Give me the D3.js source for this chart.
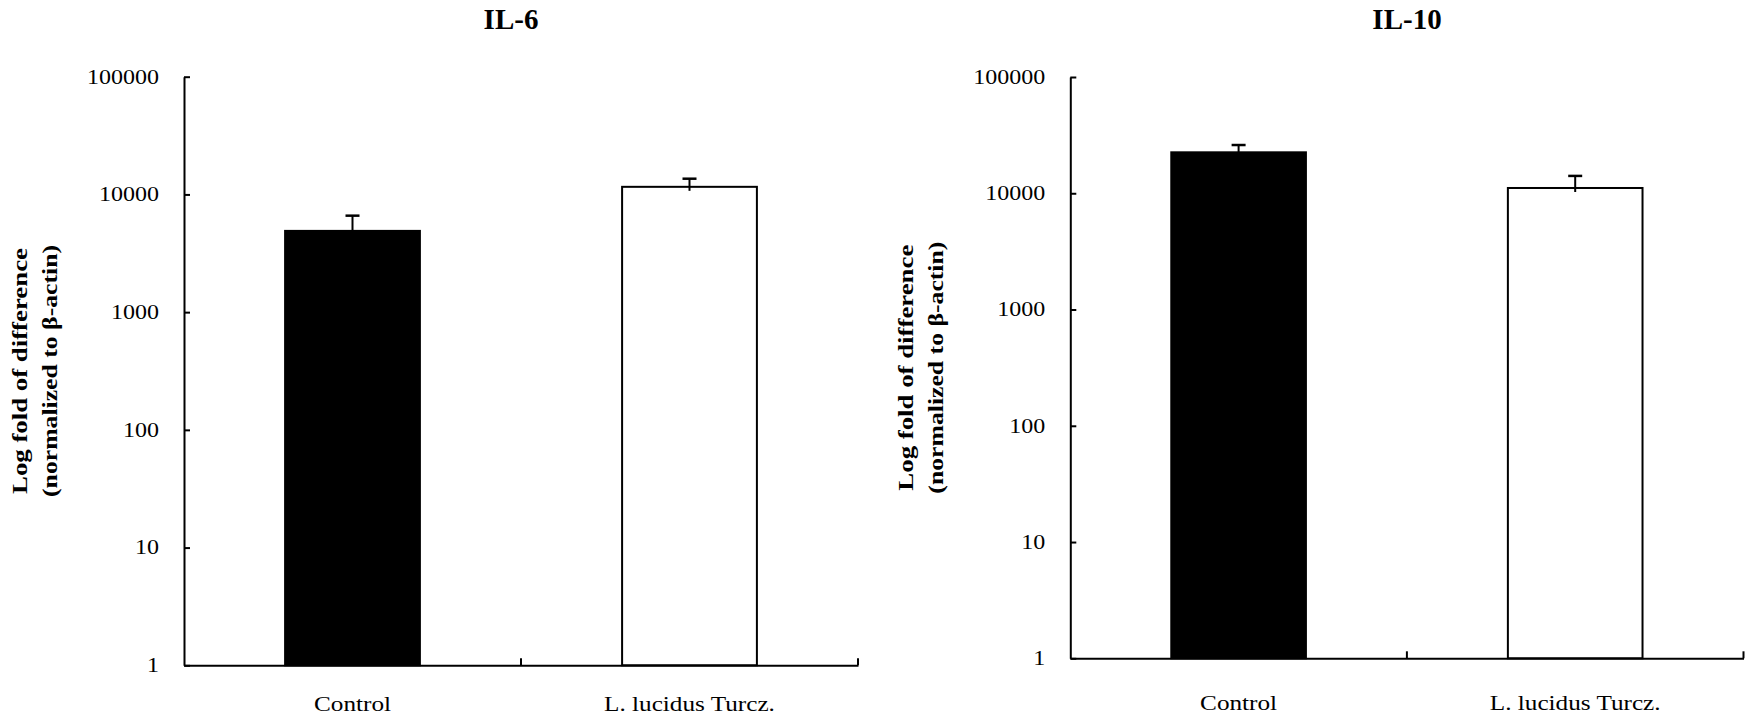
<!DOCTYPE html>
<html>
<head>
<meta charset="utf-8">
<script src="https://cdn.jsdelivr.net/npm/d3@7"></script>
<style>
  html, body { margin: 0; padding: 0; background: #fff; }
  svg { display: block; }
  text { font-family: "Liberation Serif", "Times New Roman", serif; fill: #000; }
</style>
</head>
<body>
<svg id="chart" width="1750" height="717"></svg>
<script>
// ---- data ----
const categories = ["Control", "L. lucidus Turcz."];
const panelTitles = ["IL-6", "IL-10"];
const il6Values = [4900, 11600];
const il6Upper = [6600, 13600];
const il10Values = [22500, 11100];
const il10Upper = [26000, 14100];
const yTicks = [1, 10, 100, 1000, 10000, 100000];
const yLabelLines = ["Log fold of difference", "(normalized to \u03b2-actin)"];
const barFills = ["#000000", "#ffffff"];

// ---- layout ----
const layouts = [
  { left: 184, right: 858, top: 76.7, bottom: 665.3, titleX: 511, xLabelPad: 31 },
  { left: 1070.3, right: 1743.5, top: 77, bottom: 658.3, titleX: 1407, xLabelPad: 37 }
];
const seriesValues = [il6Values, il10Values];
const seriesUpper = [il6Upper, il10Upper];

const svg = d3.select("#chart");
const stretch = 1.2;

function stretchText(sel) {
  sel.each(function () {
    const len = this.getComputedTextLength();
    d3.select(this).attr("textLength", len * stretch).attr("lengthAdjust", "spacingAndGlyphs");
  });
}

layouts.forEach((L, i) => {
  const g = svg.append("g");
  const x = d3.scaleBand().domain(categories).range([L.left, L.right]).padding(0);
  const y = d3.scaleLog().domain([1, 100000]).range([L.bottom, L.top]);
  const barW = x.bandwidth() * 0.4;

  // title
  g.append("text")
    .attr("x", L.titleX).attr("y", 29)
    .attr("text-anchor", "middle")
    .attr("font-size", 29).attr("font-weight", "bold")
    .text(panelTitles[i]);

  // y label
  const cy = (L.top + L.bottom) / 2;
  [[L.left - 164, yLabelLines[0], 246], [L.left - 134, yLabelLines[1], 252]].forEach(([lx, t, tl]) => {
    g.append("text")
      .attr("transform", `translate(${lx},${cy}) rotate(-90)`)
      .attr("text-anchor", "middle")
      .attr("dy", "0.35em")
      .attr("font-size", 20).attr("font-weight", "bold")
      .attr("textLength", tl).attr("lengthAdjust", "spacingAndGlyphs")
      .text(t);
  });

  // bars
  const vals = seriesValues[i];
  const ups = seriesUpper[i];
  const cx = c => x(c) + x.bandwidth() / 2;
  // error bars (drawn before bars so lower part hides behind fill partly)
  categories.forEach((c, j) => {
    g.append("line")
      .attr("x1", cx(c)).attr("x2", cx(c))
      .attr("y1", y(vals[j]) + 4).attr("y2", y(ups[j]))
      .attr("stroke", "#000").attr("stroke-width", 2);
    g.append("line")
      .attr("x1", cx(c) - 7).attr("x2", cx(c) + 7)
      .attr("y1", y(ups[j])).attr("y2", y(ups[j]))
      .attr("stroke", "#000").attr("stroke-width", 2.5);
  });
  g.selectAll("rect.bar")
    .data(categories)
    .enter().append("rect")
    .attr("class", "bar")
    .attr("x", c => cx(c) - barW / 2)
    .attr("width", barW)
    .attr("y", (c, j) => y(vals[j]))
    .attr("height", (c, j) => L.bottom - y(vals[j]))
    .attr("fill", (c, j) => barFills[j])
    .attr("fill-opacity", (c, j) => j === 1 ? 0 : 1)
    .attr("stroke", "#000").attr("stroke-width", 2);

  // y axis
  const yAxis = d3.axisLeft(y)
    .tickValues(yTicks)
    .tickFormat(d3.format("d"))
    .tickSize(-6).tickSizeOuter(0).tickPadding(25);
  const ya = g.append("g").attr("transform", `translate(${L.left},0)`).call(yAxis);
  ya.select(".domain").attr("stroke", "#000").attr("stroke-width", 2);
  ya.selectAll(".tick line").attr("stroke", "#000").attr("stroke-width", 2);
  ya.selectAll(".tick text").attr("font-size", 20).attr("font-family", "Liberation Serif, serif").attr("fill", "#000").call(stretchText);

  // x axis
  const xAxis = d3.axisBottom(x).tickSize(0).tickSizeOuter(0).tickPadding(L.xLabelPad);
  const xa = g.append("g").attr("transform", `translate(0,${L.bottom})`).call(xAxis);
  xa.select(".domain").attr("stroke", "#000").attr("stroke-width", 2);
  xa.selectAll(".tick text").attr("font-size", 21).attr("font-family", "Liberation Serif, serif").attr("fill", "#000").call(stretchText);
  // boundary ticks pointing up
  categories.forEach(c => {
    const bx = x(c) + x.bandwidth();
    g.append("line")
      .attr("x1", bx).attr("x2", bx)
      .attr("y1", L.bottom).attr("y2", L.bottom - 7)
      .attr("stroke", "#000").attr("stroke-width", 2);
  });
});
</script>
</body>
</html>
